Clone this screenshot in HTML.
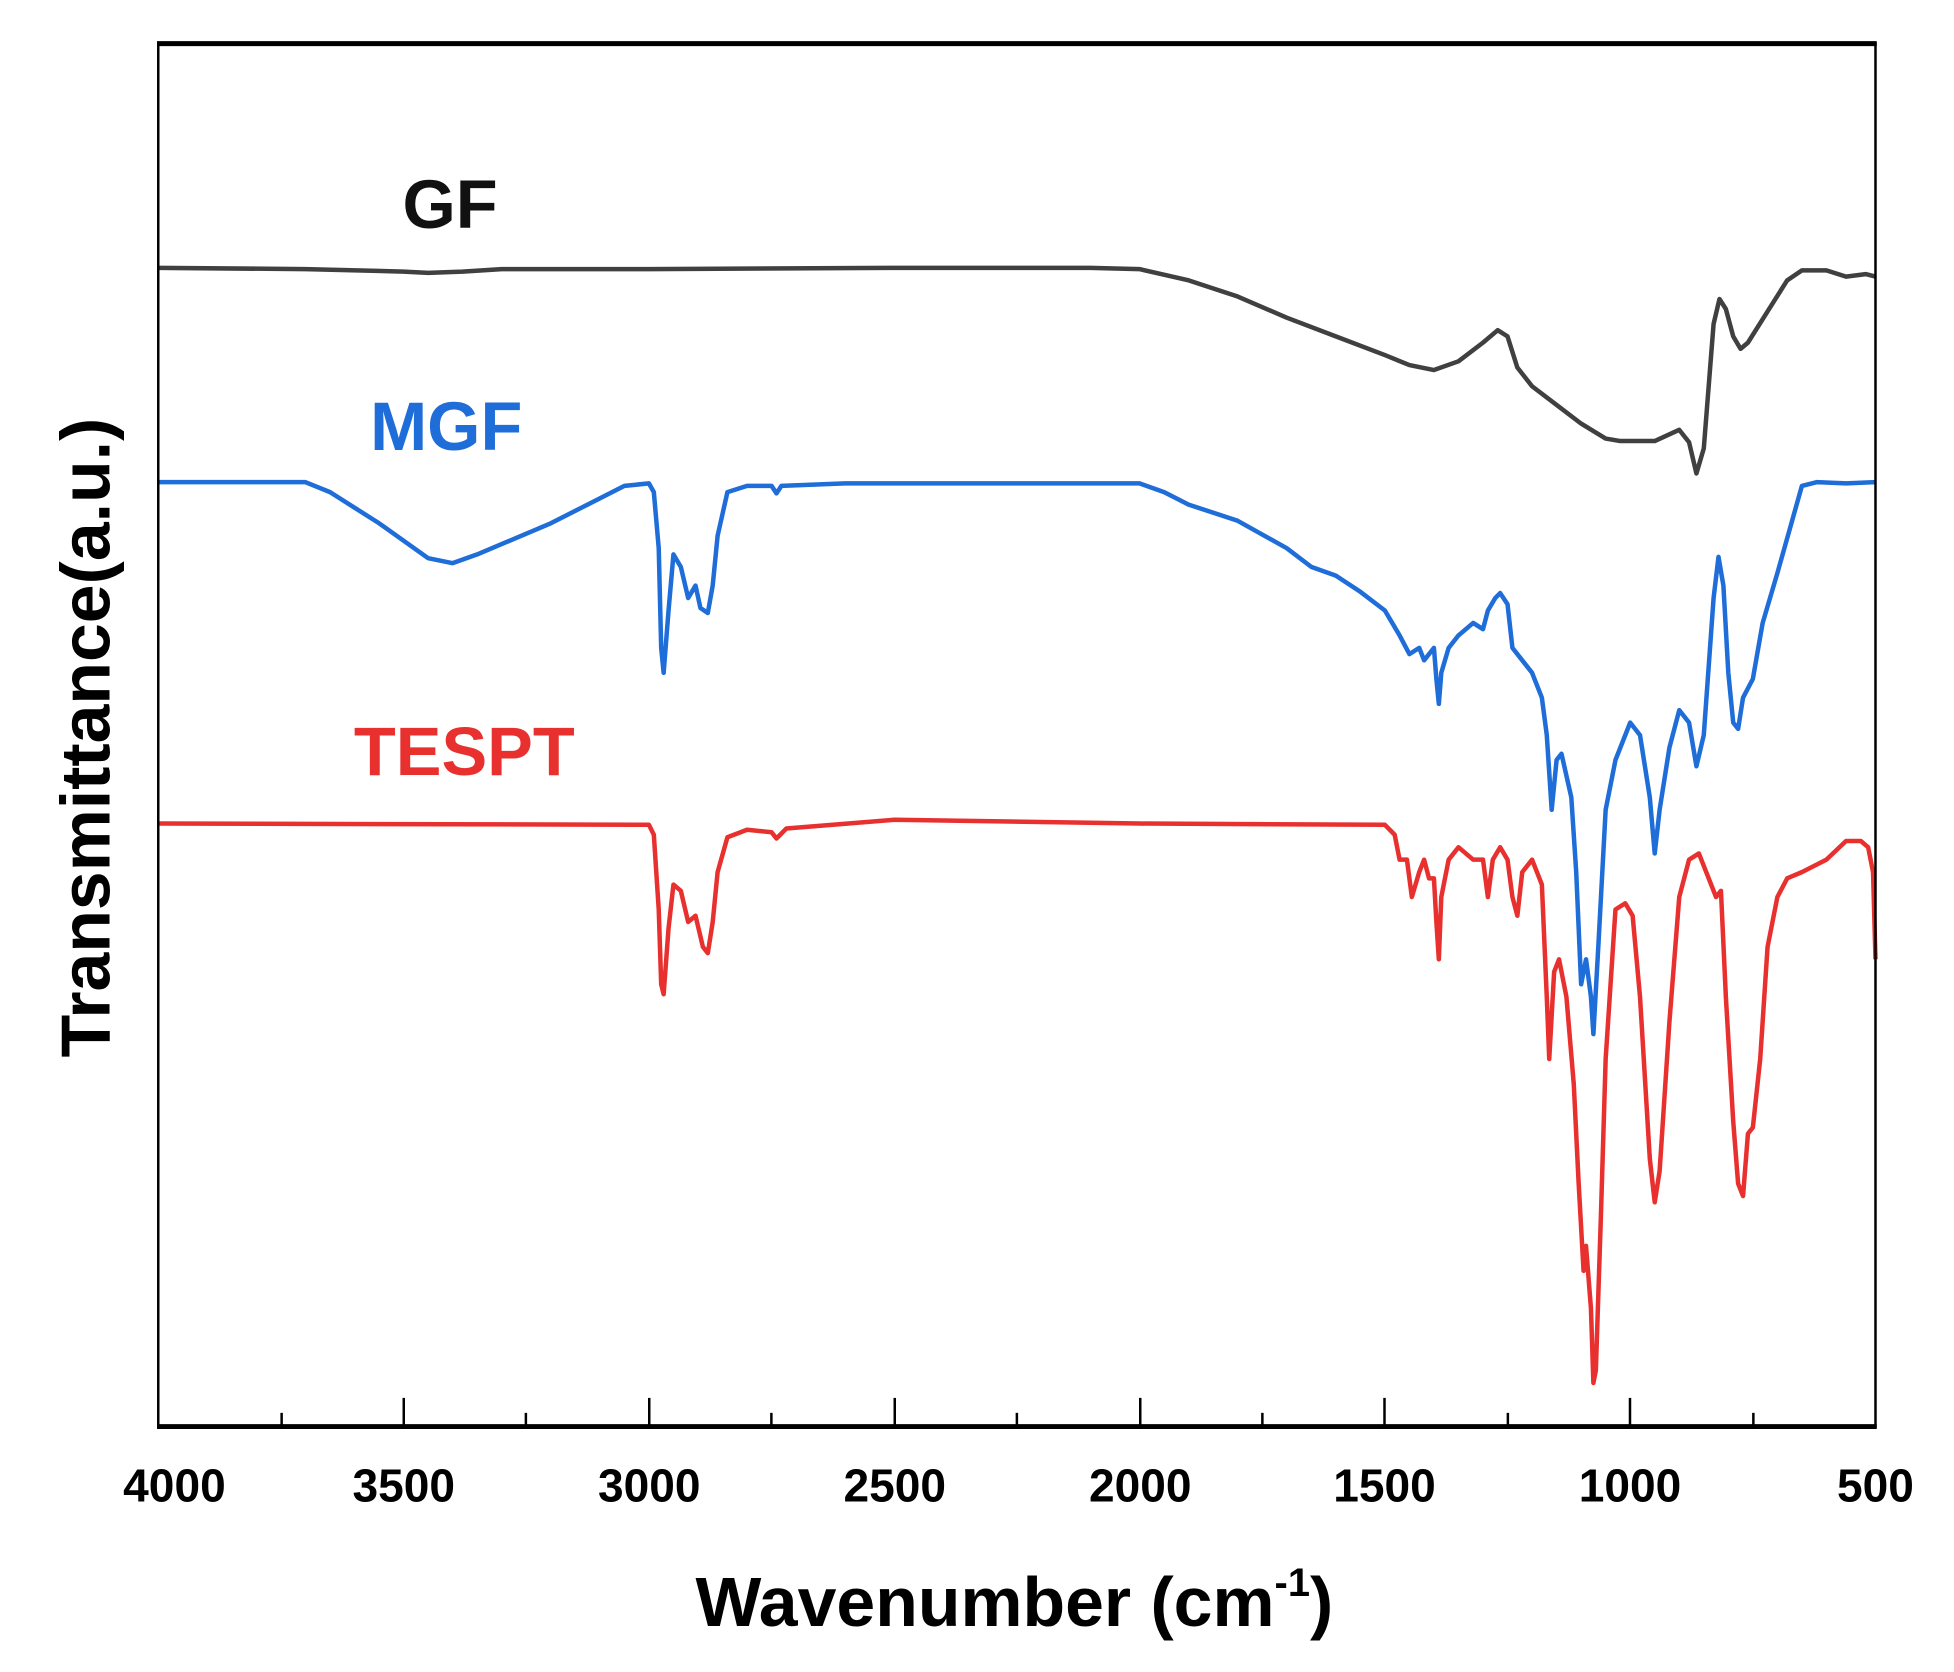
<!DOCTYPE html>
<html><head><meta charset="utf-8"><style>
html,body{margin:0;padding:0;background:#fff;}
svg{display:block;}
text{font-family:"Liberation Sans",Arial,sans-serif;font-weight:bold;}
</style></head><body>
<svg width="1954" height="1672" viewBox="0 0 1568 1342" preserveAspectRatio="none" xmlns="http://www.w3.org/2000/svg">
<rect x="0" y="0" width="1568" height="1342" fill="#fff"/>
<g transform="matrix(-0.39371 0 0 1 1701.86 0)" fill="none" stroke-linejoin="round" stroke-width="4.5" >
<polyline vector-effect="non-scaling-stroke" stroke="#404040" points="4000,215 3700,216 3500,218 3450,219 3380,218 3300,216 3000,216 2500,215 2100,215 2000,216 1900,225 1800,238 1700,255 1600,270 1500,285 1450,293 1400,297 1350,290 1300,275 1270,265 1250,270 1230,295 1200,310 1150,325 1100,340 1050,352 1020,354 950,354 900,345 880,355 865,380 850,360 830,260 818,240 805,248 790,270 775,280 760,275 720,250 680,225 650,217 600,217 560,222 520,220 500,222"/>
<polyline vector-effect="non-scaling-stroke" stroke="#1e6dd8" points="4000,387 3700,387 3650,395 3550,420 3450,448 3400,452 3350,445 3200,420 3100,400 3050,390 3000,388 2990,395 2980,440 2975,520 2970,540 2960,490 2950,445 2935,455 2920,480 2905,470 2895,488 2880,492 2870,470 2860,430 2840,395 2800,390 2750,390 2740,396 2730,390 2600,388 2000,388 1950,395 1900,405 1800,418 1700,440 1650,455 1600,462 1550,475 1500,490 1470,510 1450,525 1430,520 1420,530 1400,520 1395,545 1390,565 1385,540 1370,520 1350,510 1320,500 1300,505 1290,490 1275,480 1265,476 1250,485 1240,520 1220,530 1200,540 1180,560 1170,590 1160,650 1150,610 1140,605 1120,640 1110,700 1100,790 1090,770 1080,800 1075,830 1065,760 1050,650 1030,610 1000,580 980,590 960,640 950,685 940,650 920,600 900,570 880,580 865,615 850,590 830,480 820,447 810,470 800,540 790,580 780,585 770,560 750,545 730,500 700,460 650,390 620,387 560,388 500,387"/>
<polyline vector-effect="non-scaling-stroke" stroke="#e8302f" points="4000,661 3000,662 2990,670 2980,730 2975,790 2970,798 2960,745 2950,710 2935,715 2920,740 2905,735 2890,760 2880,765 2870,740 2860,700 2840,672 2800,666 2750,668 2740,673 2720,665 2500,658 2000,661 1500,662 1480,670 1470,690 1455,690 1445,720 1430,700 1420,690 1410,705 1400,705 1395,740 1390,770 1385,720 1370,690 1350,680 1320,690 1300,690 1290,720 1280,690 1265,680 1250,690 1240,720 1230,735 1220,700 1200,690 1180,710 1170,800 1165,850 1155,780 1145,770 1130,800 1115,870 1105,950 1095,1020 1090,1000 1080,1050 1075,1110 1070,1100 1060,980 1050,850 1030,730 1010,725 995,735 980,800 960,930 950,965 940,940 920,820 900,720 880,690 860,685 840,705 825,720 815,715 805,800 790,900 780,950 770,960 760,910 750,905 735,850 720,760 700,720 680,705 650,700 600,690 560,675 530,675 515,680 505,700 500,770"/>
</g>
<rect x="127" y="35" width="1378" height="1110" fill="none" stroke="#000" stroke-width="2"/>
<line x1="126" y1="35" x2="1506" y2="35" stroke="#000" stroke-width="4"/>
<line x1="126" y1="1145" x2="1506" y2="1145" stroke="#000" stroke-width="4"/>
<g stroke="#000" stroke-width="2">
<line x1="324" y1="1145" x2="324" y2="1122"/><line x1="521" y1="1145" x2="521" y2="1122"/><line x1="718" y1="1145" x2="718" y2="1122"/><line x1="915" y1="1145" x2="915" y2="1122"/><line x1="1111" y1="1145" x2="1111" y2="1122"/><line x1="1308" y1="1145" x2="1308" y2="1122"/>
<line x1="226" y1="1145" x2="226" y2="1134"/><line x1="422" y1="1145" x2="422" y2="1134"/><line x1="619" y1="1145" x2="619" y2="1134"/><line x1="816" y1="1145" x2="816" y2="1134"/><line x1="1013" y1="1145" x2="1013" y2="1134"/><line x1="1210" y1="1145" x2="1210" y2="1134"/><line x1="1407" y1="1145" x2="1407" y2="1134"/>
</g>
<g font-size="37" text-anchor="middle" fill="#000">
<text x="140" y="1205">4000</text><text x="324" y="1205">3500</text><text x="521" y="1205">3000</text><text x="718" y="1205">2500</text><text x="915" y="1205">2000</text><text x="1111" y="1205">1500</text><text x="1308" y="1205">1000</text><text x="1505" y="1205">500</text>
</g>
<text x="814" y="1305" font-size="56" text-anchor="middle">Wavenumber (cm<tspan font-size="32" dy="-24">-1</tspan><tspan dy="24">)</tspan></text>
<text transform="translate(88,592) rotate(-90)" font-size="56" text-anchor="middle">Transmittance(a.u.)</text>
<text x="323" y="183" font-size="55" fill="#111">GF</text>
<text x="297" y="361" font-size="55" fill="#1e6dd8">MGF</text>
<text x="284" y="622" font-size="55" fill="#e8302f">TESPT</text>
</svg>
</body></html>
